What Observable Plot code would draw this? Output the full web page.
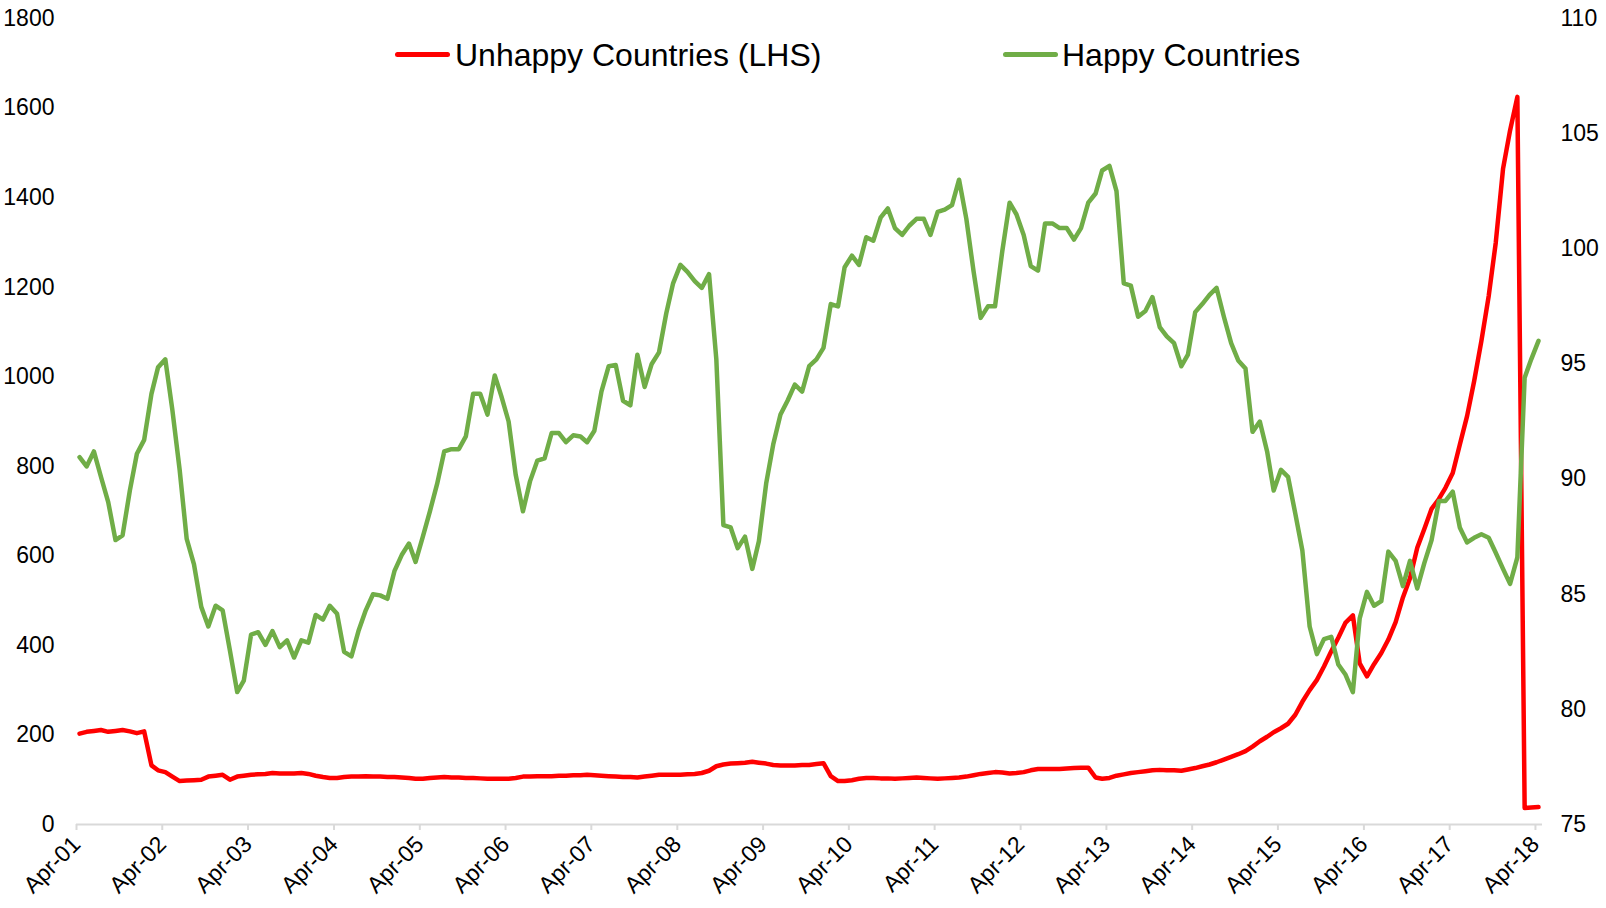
<!DOCTYPE html>
<html>
<head>
<meta charset="utf-8">
<script src="https://cdn.jsdelivr.net/npm/d3@7"></script>
<script src="https://cdn.jsdelivr.net/npm/@observablehq/plot@0.6"></script>
<style>
  html, body { margin: 0; padding: 0; background: #ffffff; }
  #wrap { position: relative; width: 1606px; height: 908px; font-family: "Liberation Sans", Arial, Helvetica, sans-serif; }
  #chart svg { display: block; }
  .lg-line { position: absolute; height: 5px; border-radius: 3px; }
  .lg-text { position: absolute; font-size: 32px; line-height: 32px; color: #000; white-space: nowrap; }
</style>
</head>
<body>
<div id="wrap">
  <div id="chart"></div>
</div>
<script>
// ---- data (monthly, Apr-2001 .. Apr-2018) ----
const startYear = 2001;
const startMonthIndex = 3; // April
const seriesNames = ["Unhappy Countries (LHS)", "Happy Countries"];
const seriesColors = ["#ff0000", "#70ad47"];

const unhappy = [
  203, 207, 209, 211, 207, 209, 211, 208, 204, 208,
  132, 121, 117, 107, 97, 98, 99, 100, 107, 109,
  111, 100, 107, 109, 111, 112, 113, 115, 114, 114,
  114, 115, 113, 109, 106, 104, 104, 106, 107, 107,
  108, 107, 107, 106, 106, 105, 104, 102, 102, 104,
  105, 106, 105, 105, 104, 104, 103, 102, 102, 102,
  102, 104, 107, 107, 108, 108, 108, 109, 109, 110,
  110, 111, 110, 109, 108, 107, 106, 106, 105, 107,
  109, 111, 111, 111, 111, 112, 113, 115, 120, 130,
  134, 136, 137, 138, 140, 138, 136, 133, 132, 132,
  132, 133, 133, 135, 137, 108, 97, 97, 99, 102,
  104, 104, 103, 103, 102, 103, 104, 105, 104, 103,
  102, 103, 104, 105, 107, 110, 113, 115, 117, 116,
  114, 115, 117, 121, 124, 124, 124, 124, 125, 126,
  127, 127, 105, 102, 104, 109, 112, 115, 117, 119,
  121, 122, 121, 121, 120, 123, 126, 130, 134, 139,
  145, 151, 157, 164, 174, 186, 196, 206, 215, 225,
  245, 274, 300, 323, 353, 387, 417, 451, 467, 360,
  331, 358, 383, 413, 452, 507, 550, 618, 660, 705,
  727, 752, 785, 848, 912, 990, 1080, 1180, 1299, 1464,
  1550, 1625, 37, 38, 39
];

const happy = [
  90.95, 90.55, 91.2, 90.1, 89.0, 87.35, 87.55, 89.5, 91.1, 91.7,
  93.7, 94.85, 95.2, 93.0, 90.4, 87.4, 86.3, 84.45, 83.6, 84.5,
  84.3, 82.55, 80.75, 81.25, 83.25, 83.35, 82.8, 83.4, 82.7, 83.0,
  82.25, 83.0, 82.9, 84.1, 83.9, 84.5, 84.15, 82.5, 82.3, 83.4,
  84.3, 85.0, 84.95, 84.8, 86.0, 86.7, 87.2, 86.4, 87.5, 88.6,
  89.8, 91.2, 91.3, 91.3, 91.85, 93.7, 93.7, 92.8, 94.5, 93.6,
  92.5, 90.2, 88.6, 89.9, 90.8, 90.9, 92.0, 92.0, 91.6, 91.9,
  91.85, 91.6, 92.1, 93.8, 94.9, 94.95, 93.4, 93.2, 95.4, 94.0,
  95.0, 95.5, 97.2, 98.5, 99.3, 99.0, 98.6, 98.3, 98.9, 95.2,
  88.0, 87.9, 87.0, 87.5, 86.1, 87.3, 89.8, 91.5, 92.8, 93.4,
  94.1, 93.8, 94.9, 95.2, 95.7, 97.6, 97.5, 99.2, 99.7, 99.3,
  100.5, 100.35, 101.35, 101.75, 100.9, 100.6, 101.0, 101.3, 101.3, 100.6,
  101.6, 101.7, 101.9, 103.0, 101.3, 99.0, 97.0, 97.5, 97.5, 99.9,
  102.0, 101.5, 100.6, 99.25, 99.05, 101.1, 101.1, 100.9, 100.9, 100.4,
  100.9, 102.0, 102.4, 103.4, 103.6, 102.5, 98.5, 98.4, 97.05, 97.3,
  97.9, 96.6, 96.2, 95.9, 94.9, 95.4, 97.25, 97.6, 98.0, 98.3,
  97.05, 95.9, 95.15, 94.8, 92.05, 92.5, 91.2, 89.5, 90.4, 90.1,
  88.5, 86.9, 83.6, 82.4, 83.05, 83.15, 81.95, 81.5, 80.75, 83.95,
  85.1, 84.5, 84.7, 86.85, 86.45, 85.35, 86.45, 85.25, 86.35, 87.35,
  89.05, 89.05, 89.45, 87.9, 87.25, 87.45, 87.6, 87.45, 86.8, 86.1,
  85.45, 86.6, 94.4, 95.2, 96.0
];

const leftTicks = [0, 200, 400, 600, 800, 1000, 1200, 1400, 1600, 1800];
const rightTicks = [75, 80, 85, 90, 95, 100, 105, 110];
const xTickYears = d3.range(2001, 2019);

// ---- derived tables ----
const leftDomain = [0, 1800];
const rightDomain = [75, 110];
const toLeft = v => (v - rightDomain[0]) * (leftDomain[1] - leftDomain[0]) / (rightDomain[1] - rightDomain[0]) + leftDomain[0];
const fromLeft = v => (v - leftDomain[0]) * (rightDomain[1] - rightDomain[0]) / (leftDomain[1] - leftDomain[0]) + rightDomain[0];

const start = new Date(Date.UTC(startYear, startMonthIndex, 1));
const dateAt = i => d3.utcDay.offset(d3.utcMonth.offset(start, i), 13);
const unhappyData = unhappy.map((v, i) => ({date: dateAt(i), value: v}));
const happyData = happy.map((v, i) => ({date: dateAt(i), value: v}));
const xTicks = xTickYears.map(y => new Date(Date.UTC(y, startMonthIndex, 1)));
const xDomain = [start, d3.utcMonth.offset(start, unhappy.length)];

const chart = Plot.plot({
  width: 1606,
  height: 908,
  marginLeft: 76,
  marginRight: 64,
  marginTop: 18,
  marginBottom: 84,
  style: {fontFamily: '"Liberation Sans", Arial, Helvetica, sans-serif', fontSize: "23px", color: "#000", background: "#fff"},
  x: {type: "utc", domain: xDomain, label: null},
  y: {domain: leftDomain, label: null},
  marks: [
    Plot.ruleY([0], {stroke: "#d9d9d9", strokeWidth: 2}),
    Plot.axisX(xTicks, {anchor: "bottom", label: null, tickFormat: d3.utcFormat("%b-%y"), tickRotate: -45, tickSize: 6, tickPadding: 10, stroke: "#d9d9d9", strokeWidth: 2, fill: "#000"}),
    Plot.axisY(leftTicks, {anchor: "left", label: null, tickSize: 0, tickPadding: 22, fill: "#000", tickFormat: d => String(d)}),
    Plot.axisY(rightTicks.map(toLeft), {anchor: "right", label: null, tickSize: 0, tickPadding: 18, fill: "#000", tickFormat: d => String(Math.round(fromLeft(d)))}),
    Plot.lineY(unhappyData, {x: "date", y: "value", stroke: seriesColors[0], strokeWidth: 4.5, strokeLinejoin: "round", strokeLinecap: "round"}),
    Plot.lineY(happyData, {x: "date", y: d => toLeft(d.value), stroke: seriesColors[1], strokeWidth: 4.5, strokeLinejoin: "round", strokeLinecap: "round"})
  ]
});
document.getElementById("chart").appendChild(chart);

// ---- legend (HTML overlay inside the plot area) ----
const wrap = document.getElementById("wrap");
const legendItems = [
  {name: seriesNames[0], color: seriesColors[0], lineLeft: 395, lineWidth: 55, textLeft: 455},
  {name: seriesNames[1], color: seriesColors[1], lineLeft: 1003, lineWidth: 55, textLeft: 1062}
];
for (const it of legendItems) {
  const ln = document.createElement("div");
  ln.className = "lg-line";
  ln.style.left = it.lineLeft + "px";
  ln.style.top = "52px";
  ln.style.width = it.lineWidth + "px";
  ln.style.background = it.color;
  wrap.appendChild(ln);
  const tx = document.createElement("div");
  tx.className = "lg-text";
  tx.style.left = it.textLeft + "px";
  tx.style.top = "39px";
  tx.textContent = it.name;
  wrap.appendChild(tx);
}
</script>
</body>
</html>
